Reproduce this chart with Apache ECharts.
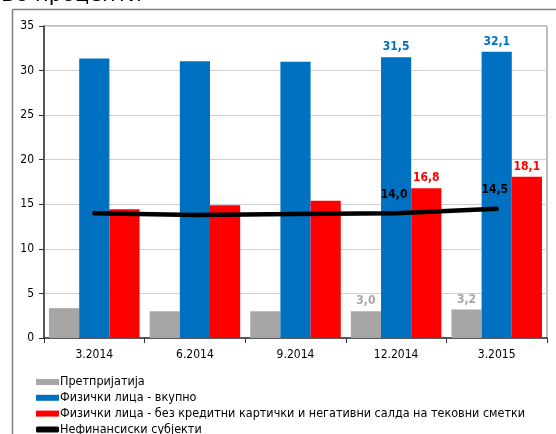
<!DOCTYPE html>
<html><head><meta charset="utf-8">
<script src="https://cdn.jsdelivr.net/npm/echarts@6/dist/echarts.min.js"></script>
<style>html,body{margin:0;padding:0;background:#fff;}#c{width:556px;height:434px;}</style>
</head><body><div id="c"></div>
<script>
var categories = ['3.2014','6.2014','9.2014','12.2014','3.2015'];
var seriesNames = ['Претпријатија','Физички лица - вкупно','Физички лица - без кредитни картички и негативни салда на тековни сметки','Нефинансиски субјекти'];
var enterprises = [3.35, 3.0, 3.0, 3.0, 3.2];
var householdsTotal = [31.35, 31.05, 31.0, 31.5, 32.1];
var householdsExcl = [14.45, 14.9, 15.4, 16.8, 18.1];
var nonFinancial = [14.0, 13.8, 13.9, 14.0, 14.5];
var labeledIdx = [3, 4];
var yTicks = [0, 5, 10, 15, 20, 25, 30, 35];
var titleText = 'Во проценти';

var FONT = 'DejaVu Sans Condensed';
function comma(v){ return (Math.round(v*10)/10).toFixed(1).replace('.', ','); }
function withLabels(arr, color, extra){
  return arr.map(function(v, i){
    if (labeledIdx.indexOf(i) >= 0) {
      var lab = {show:true, position:'top', distance:4, color:color, fontFamily:FONT, fontWeight:'bold', fontSize:12, formatter:function(p){return comma(p.value);}};
      if (extra) for (var k in extra) lab[k] = extra[k];
      return {value:v, label:lab};
    }
    return v;
  });
}

var chart = echarts.init(document.getElementById('c'), null, {renderer:'canvas'});
chart.setOption({
  animation:false,
  textStyle:{fontFamily:FONT},
  graphic:[
    {type:'text', left:1, top:-15, style:{text:titleText, font:'21px "DejaVu Sans"', fill:'#000'}},
    {type:'line', shape:{x1:12.5, y1:9.5, x2:556, y2:9.5}, style:{stroke:'#808080', lineWidth:1.5}},
    {type:'line', shape:{x1:12.5, y1:9.5, x2:12.5, y2:434}, style:{stroke:'#808080', lineWidth:1.5}}
  ],
  grid:{left:44, right:9, top:26, bottom:96, show:true, borderColor:'#7f7f7f', borderWidth:1, containLabel:false},
  legend:{
    orient:'vertical', left:36, top:375, height:80, itemWidth:23, itemHeight:6, itemGap:1.8, padding:0,
    textStyle:{fontFamily:FONT, fontSize:12.5, color:'#000', lineHeight:14, padding:[0,0,0,-4]},
    data:[
      {name:seriesNames[0], icon:'rect'},
      {name:seriesNames[1], icon:'rect'},
      {name:seriesNames[2], icon:'rect'},
      {name:seriesNames[3], icon:'roundRect', itemStyle:{color:'#000'}}
    ]
  },
  xAxis:{
    type:'category', data:categories,
    axisLine:{lineStyle:{color:'#333', width:1.5}},
    axisTick:{show:true, length:5, lineStyle:{color:'#333'}},
    axisLabel:{fontFamily:FONT, fontSize:12, color:'#000', margin:11}
  },
  yAxis:{
    type:'value', min:0, max:35, interval:5,
    axisLine:{show:true, lineStyle:{color:'#333', width:1.5}},
    axisTick:{show:true, length:5, lineStyle:{color:'#333'}},
    axisLabel:{fontFamily:FONT, fontSize:12, color:'#000', margin:10,
      formatter:function(v){ return yTicks.indexOf(v)>=0 ? String(v) : ''; }},
    splitLine:{show:true, lineStyle:{color:'#d0d0d0', width:1}}
  },
  series:[
    {name:seriesNames[0], type:'bar', barGap:'0%', barCategoryGap:'10%', itemStyle:{color:'#a6a6a6'},
     data:withLabels(enterprises, '#a6a6a6')},
    {name:seriesNames[1], type:'bar', barGap:'0%', barCategoryGap:'10%', itemStyle:{color:'#0070c0'},
     data:withLabels(householdsTotal, '#0070c0')},
    {name:seriesNames[2], type:'bar', barGap:'0%', barCategoryGap:'10%', itemStyle:{color:'#ff0000'},
     data:withLabels(householdsExcl, '#ff0000')},
    {name:seriesNames[3], type:'line', symbol:'circle', symbolSize:1, showSymbol:true, smooth:false, z:5,
     lineStyle:{color:'#000', width:4.5, cap:'round'}, itemStyle:{color:'#000'},
     data:withLabels(nonFinancial, '#000', {distance:12, offset:[-2,0]})}
  ]
});
</script></body></html>
